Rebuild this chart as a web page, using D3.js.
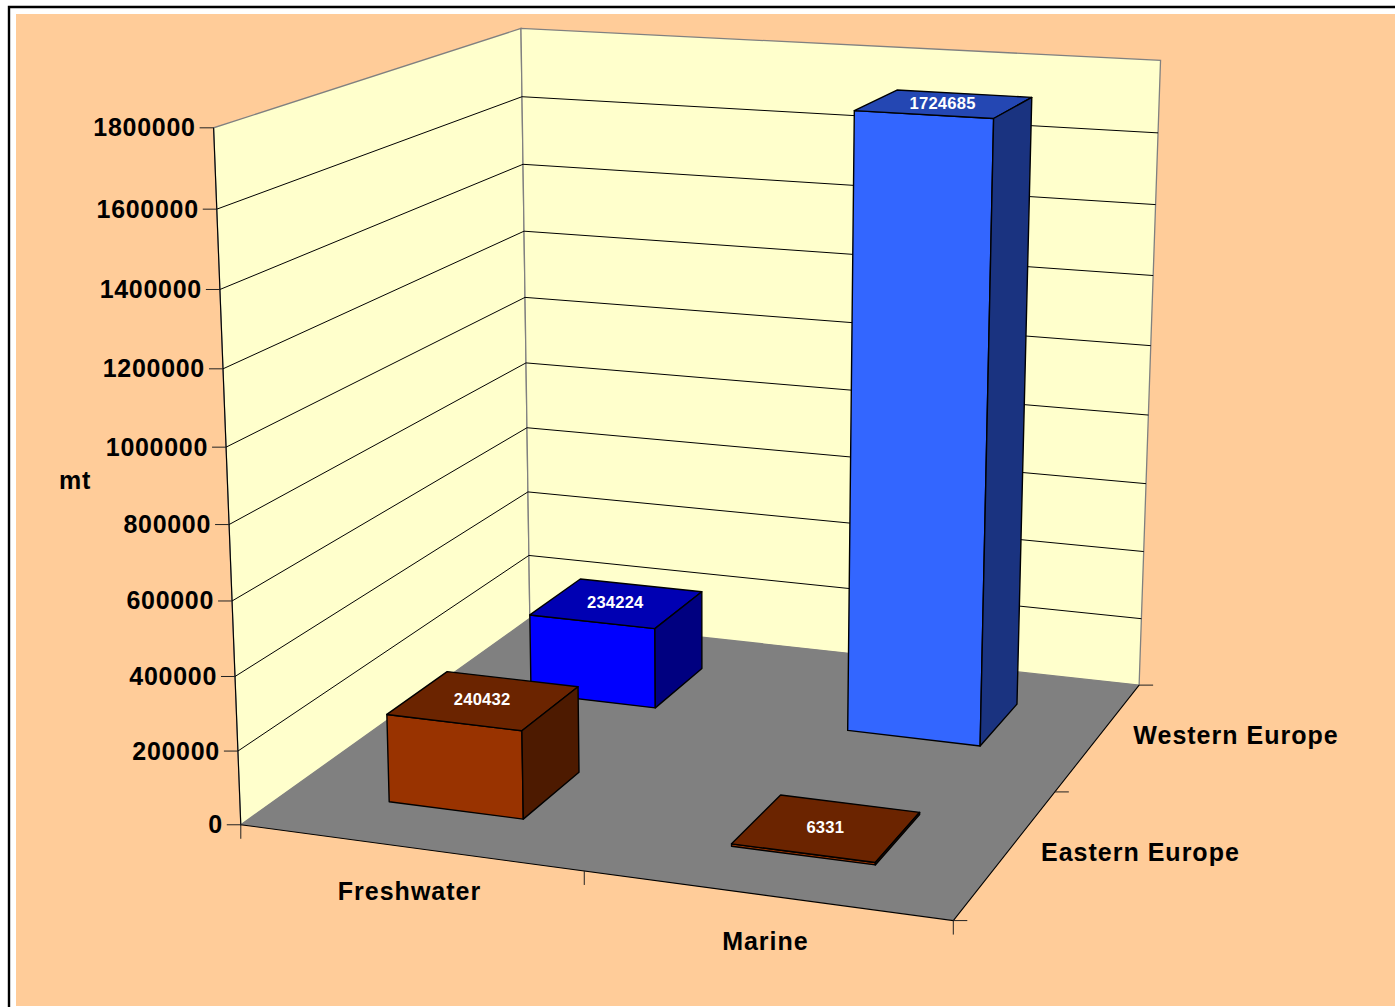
<!DOCTYPE html>
<html>
<head>
<meta charset="utf-8">
<script src="https://cdnjs.cloudflare.com/ajax/libs/d3/7.8.5/d3.min.js"></script>
<style>
  html, body { margin: 0; padding: 0; background: #fff; }
  svg { display: block; }
  text { font-family: "Liberation Sans", Arial, sans-serif; font-weight: bold; }
</style>
</head>
<body>
<svg id="chart" width="1395" height="1007"></svg>
<script>
const categories = ["Freshwater", "Marine"];
const seriesNames = ["Eastern Europe", "Western Europe"];
const easternValues = [240432, 6331];
const westernValues = [234224, 1724685];
const valueTicks = [0, 200000, 400000, 600000, 800000, 1000000, 1200000, 1400000, 1600000, 1800000];
const valueAxisTitle = "mt";

const svg = d3.select("#chart");

// screen position of known points in the plot box, [x, y, z] -> [sx, sy], box is 0..1 on each side
const anchors = [
  [[0, 0, 0], [241, 825]],
  [[1, 0, 0], [953, 921]],
  [[1, 0, 1], [1139, 685]],
  [[0, 0, 1], [530, 619]],
  [[0, 1, 0], [214, 127]],
  [[0, 1, 1], [521, 28]],
  [[1, 1, 1], [1161, 60]],
  [[0.5, 0, 0], [584, 871]],
  [[1, 0, 0.5], [1056, 792]],
  [[0.65, 0.958, 0.65], [853, 112]],
  [[0.85, 0.958, 0.65], [994, 119]],
  [[0.65, 0, 0.65], [847, 730]],
  [[0.85, 0, 0.65], [980, 745]],
];

// least squares fit of a 3x4 perspective matrix
function fitCamera(pts) {
  const n = 11;
  const A = d3.range(n).map(() => new Array(n + 1).fill(0));
  const addRow = (row, rhs) => {
    for (let i = 0; i < n; i++) {
      for (let j = 0; j < n; j++) A[i][j] += row[i] * row[j];
      A[i][n] += row[i] * rhs;
    }
  };
  pts.forEach(([[x, y, z], [u, v]]) => {
    addRow([x, y, z, 1, 0, 0, 0, 0, -u * x, -u * y, -u * z], u);
    addRow([0, 0, 0, 0, x, y, z, 1, -v * x, -v * y, -v * z], v);
  });
  for (let c = 0; c < n; c++) {
    let p = c;
    for (let r = c + 1; r < n; r++) if (Math.abs(A[r][c]) > Math.abs(A[p][c])) p = r;
    [A[c], A[p]] = [A[p], A[c]];
    for (let r = 0; r < n; r++) {
      if (r === c) continue;
      const f = A[r][c] / A[c][c];
      for (let k = c; k <= n; k++) A[r][k] -= f * A[c][k];
    }
  }
  return A.map((row, i) => row[n] / row[i]);
}

const m = fitCamera(anchors);
const project = (x, y, z) => {
  const w = m[8] * x + m[9] * y + m[10] * z + 1;
  return [
    (m[0] * x + m[1] * y + m[2] * z + m[3]) / w,
    (m[4] * x + m[5] * y + m[6] * z + m[7]) / w,
  ];
};

// scales, all into the unit box
const xScale = d3.scaleBand().domain(categories).range([0, 1]).paddingInner(0.6).paddingOuter(0.3);
const zScale = d3.scaleBand().domain(seriesNames).range([0, 1]).paddingInner(0.6).paddingOuter(0.3);
const yScale = d3.scaleLinear().domain([0, 1800000]).range([0, 1]);
const colors = d3.scaleOrdinal().domain(["Eastern Europe|Freshwater", "Eastern Europe|Marine", "Western Europe|Freshwater", "Western Europe|Marine"])
  .range(["#993300", "#993300", "#0000FF", "#3366FF"]);

const line = d3.line();
const quad = (pts) => line(pts) + "Z";

// page frame
svg.append("rect").attr("x", 16).attr("y", 14).attr("width", 1379).attr("height", 992).attr("fill", "#FFCC99");
svg.append("path").attr("d", "M9,1007V7H1395").attr("fill", "none").attr("stroke", "#000").attr("stroke-width", 2.4);

// walls and floor
const walls = svg.append("g");
walls.append("path")
  .attr("d", quad([project(0, 0, 0), project(0, 1, 0), project(0, 1, 1), project(0, 0, 1)]))
  .attr("fill", "#FFFFCC").attr("stroke", "#808080").attr("stroke-width", 1.3);
walls.append("path")
  .attr("d", quad([project(0, 0, 1), project(0, 1, 1), project(1, 1, 1), project(1, 0, 1)]))
  .attr("fill", "#FFFFCC").attr("stroke", "#808080").attr("stroke-width", 1.3);
walls.append("path")
  .attr("d", quad([project(0, 0, 0), project(1, 0, 0), project(1, 0, 1), project(0, 0, 1)]))
  .attr("fill", "#808080");

// gridlines
const grid = svg.append("g").attr("fill", "none").attr("stroke", "#000").attr("stroke-width", 1);
valueTicks.filter((d) => d > 0 && d < 1800000).forEach((d) => {
  const v = yScale(d);
  grid.append("path").attr("d", line([project(0, v, 0), project(0, v, 1), project(1, v, 1)]));
});

// box edges
const edges = svg.append("g").attr("fill", "none").attr("stroke", "#000").attr("stroke-width", 1.1);
edges.append("path").attr("d", line([project(0, 1, 0), project(0, 0, 0), project(1, 0, 0), project(1, 0, 1)]));

// value axis
const yAxis = svg.append("g");
valueTicks.forEach((d) => {
  const [sx, sy] = project(0, yScale(d), 0);
  yAxis.append("line").attr("x1", sx - 14).attr("x2", sx).attr("y1", sy).attr("y2", sy).attr("stroke", "#222").attr("stroke-width", 1);
  yAxis.append("text").attr("x", sx - 18).attr("y", sy - 0.5).attr("dy", "0.36em").attr("text-anchor", "end")
    .attr("font-size", 25).attr("letter-spacing", 0.7).attr("fill", "#000").text(d);
});
svg.append("text").attr("x", 75).attr("y", 480).attr("dy", "0.36em").attr("text-anchor", "middle")
  .attr("font-size", 25).attr("letter-spacing", 0.7).attr("fill", "#000").text(valueAxisTitle);

// category axis, tick marks on band edges
const catAxis = svg.append("g");
d3.range(categories.length + 1).forEach((i) => {
  const [sx, sy] = project(i / categories.length, 0, 0);
  catAxis.append("line").attr("x1", sx).attr("x2", sx).attr("y1", sy).attr("y2", sy + 14).attr("stroke", "#222").attr("stroke-width", 1);
});
categories.forEach((c, i) => {
  const [sx, sy] = project((i + 0.5) / categories.length, 0, 0);
  catAxis.append("text").attr("x", sx).attr("y", sy + 44 + 2 * i).attr("dy", "0.36em").attr("text-anchor", "middle")
    .attr("font-size", 25).attr("letter-spacing", 1).attr("fill", "#000").text(c);
});

// series axis
const serAxis = svg.append("g");
d3.range(seriesNames.length + 1).forEach((i) => {
  const [sx, sy] = project(1, 0, i / seriesNames.length);
  serAxis.append("line").attr("x1", sx).attr("x2", sx + 14).attr("y1", sy).attr("y2", sy).attr("stroke", "#222").attr("stroke-width", 1);
});
seriesNames.forEach((s, i) => {
  const [sx, sy] = project(1, 0, (i + 0.5) / seriesNames.length);
  serAxis.append("text").attr("x", sx + 34.5).attr("y", sy - 1.5).attr("dy", "0.36em")
    .attr("font-size", 25).attr("letter-spacing", 1).attr("fill", "#000").text(s);
});

// bars, back row first
const rows = [
  { series: "Western Europe", values: westernValues },
  { series: "Eastern Europe", values: easternValues },
];
const bars = svg.append("g");
rows.forEach((row) => {
  categories.forEach((cat, i) => {
    const value = row.values[i];
    const base = d3.color(colors(row.series + "|" + cat));
    const x0 = xScale(cat), x1 = x0 + xScale.bandwidth();
    const z0 = zScale(row.series), z1 = z0 + zScale.bandwidth();
    const h = yScale(value);
    const g = bars.append("g").attr("stroke", "#000").attr("stroke-width", 1.4).attr("stroke-linejoin", "round");
    g.append("path").attr("fill", base.formatHex())
      .attr("d", quad([project(x0, 0, z0), project(x1, 0, z0), project(x1, h, z0), project(x0, h, z0)]));
    g.append("path").attr("fill", shade(base, 0.7))
      .attr("d", quad([project(x0, h, z0), project(x1, h, z0), project(x1, h, z1), project(x0, h, z1)]));
    g.append("path").attr("fill", shade(base, 0.5))
      .attr("d", quad([project(x1, 0, z0), project(x1, 0, z1), project(x1, h, z1), project(x1, h, z0)]));
    const [lx, ly] = project((x0 + x1) / 2, h, (z0 + z1) / 2);
    bars.append("text").attr("x", lx - 1.5).attr("y", ly - 1).attr("dy", "0.36em").attr("text-anchor", "middle")
      .attr("font-size", 16.6).attr("letter-spacing", 0.2).attr("fill", "#fff").text(value);
  });
});

function shade(c, f) {
  return d3.rgb(c.r * f, c.g * f, c.b * f).formatHex();
}
</script>
</body>
</html>
